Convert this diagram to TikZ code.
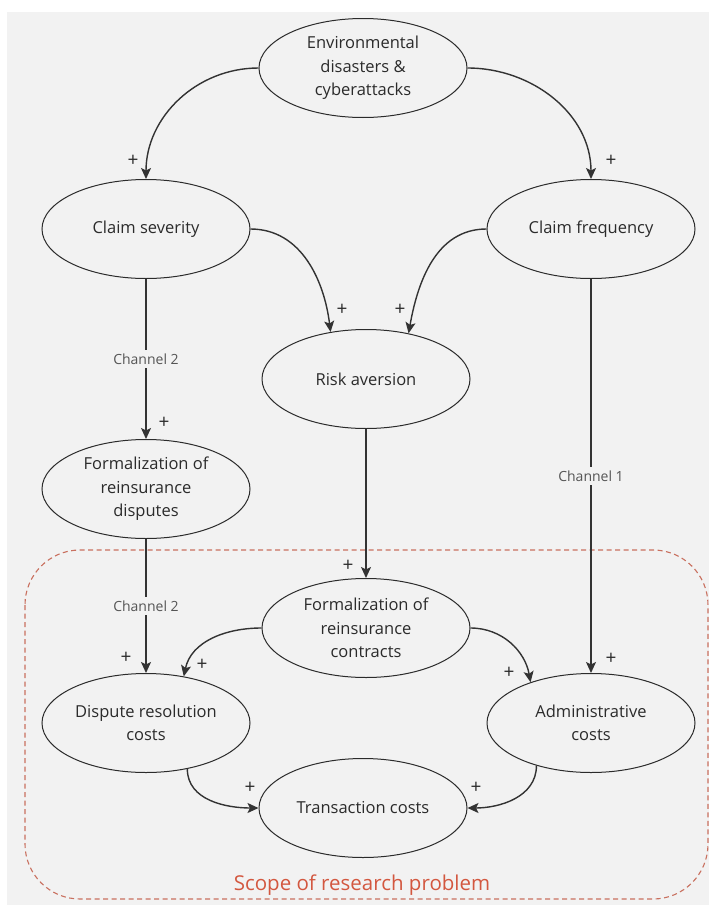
\documentclass[tikz,border=0pt]{standalone}
\usepackage{fontspec}
\setmainfont{Open Sans}
\usetikzlibrary{arrows.meta,shapes.geometric}
\definecolor{bg}{HTML}{F2F2F2}
\definecolor{ink}{HTML}{2B2B2B}
\definecolor{edgecol}{HTML}{333333}
\definecolor{chan}{HTML}{555555}
\definecolor{scope}{HTML}{C9705F}
\definecolor{scopetext}{HTML}{D3573F}
\begin{document}
\begin{tikzpicture}[x=1pt,y=1pt,
  var/.style={ellipse, draw=ink, line width=1pt, minimum width=208pt,
    minimum height=99pt, inner sep=0pt, align=center, text=ink,
    font=\fontsize{16.5}{23.5}\selectfont},
  link/.style={draw=edgecol, line width=1.4pt,
    -{Stealth[length=11pt,width=10pt,inset=2.5pt]}},
  sign/.style={text=ink, font=\fontsize{19}{19}\selectfont, inner sep=0pt},
  chanlabel/.style={fill=bg, text=chan, font=\fontsize{14}{14}\selectfont,
    inner xsep=2pt, inner ysep=4pt}]

% canvas and backdrop
\useasboundingbox (0,0) rectangle (709,-905);
\fill[white] (0,0) rectangle (709,-905);
\fill[bg] (7,-12) rectangle (709,-905);

% scope frame
\draw[scope, line width=1.1pt, dash pattern=on 5pt off 3.5pt, rounded corners=55pt]
  (25,-550) rectangle (708,-899);
\node[text=scopetext, font=\fontsize{20.5}{20.5}\selectfont] (scopelbl) at (362,-885)
  {Scope of research problem};

% variables
\node[var] (env) at (363,-68)  {Environmental\\disasters \&\\cyberattacks};
\node[var] (cs)  at (146,-229) {Claim severity};
\node[var] (cf)  at (591,-229) {Claim frequency};
\node[var] (ra)  at (366,-379) {Risk aversion};
\node[var] (fd)  at (146,-489) {Formalization of\\reinsurance\\disputes};
\node[var] (fc)  at (366,-628) {Formalization of\\reinsurance\\contracts};
\node[var] (dr)  at (146,-723) {Dispute resolution\\costs};
\node[var] (ac)  at (591,-723) {Administrative\\costs};
\node[var] (tc)  at (363,-808) {Transaction costs};

% causal links
\draw[link] (env.west) to[out=180,in=90] (cs.north);
\draw[link] (env.east) to[out=0,in=90] (cf.north);
\draw[link] (cs.east) to[out=0,in=97] (ra.127);
\draw[link] (cf.west) to[out=180,in=80] (ra.47);
\draw[link] (cs.south) -- node[chanlabel] (ch2a) {Channel 2} (fd.north);
\draw[link] (ra.south) -- (fc.north);
\draw[link] (cf.south) -- node[chanlabel] (ch1) {Channel 1} (ac.north);
\draw[link] (fd.south) -- node[chanlabel] (ch2b) {Channel 2} (dr.north);
\draw[link] (fc.west) to[out=180,in=78] (dr.51);
\draw[link] (fc.east) to[out=0,in=100] (ac.146);
\draw[link] (dr.-48) to[out=-90,in=180] (tc.west);
\draw[link] (ac.218) to[out=-90,in=0] (tc.east);

% polarity signs
\node[sign] (p1)  at (133,-161) {+};
\node[sign] (p2)  at (611,-161) {+};
\node[sign] (p3)  at (342,-310) {+};
\node[sign] (p4)  at (400,-310) {+};
\node[sign] (p5)  at (164,-423) {+};
\node[sign] (p6)  at (348,-566) {+};
\node[sign] (p7)  at (611,-659) {+};
\node[sign] (p8)  at (126,-658) {+};
\node[sign] (p9)  at (202,-665) {+};
\node[sign] (p10) at (509,-673) {+};
\node[sign] (p11) at (250,-788) {+};
\node[sign] (p12) at (476,-788) {+};
\end{tikzpicture}
\end{document}
